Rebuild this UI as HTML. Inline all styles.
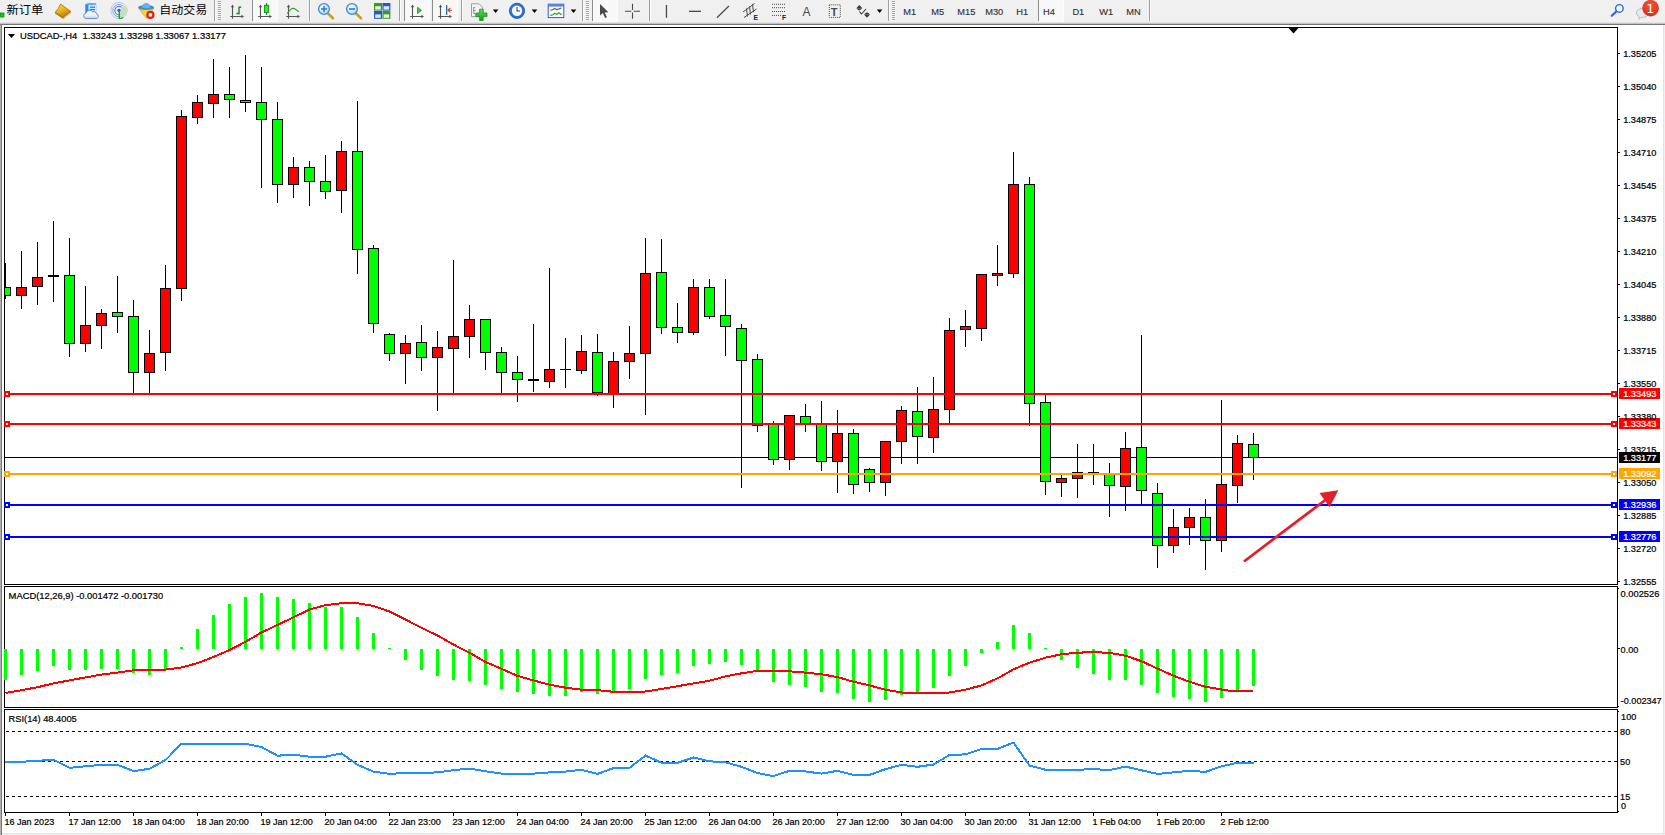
<!DOCTYPE html>
<html><head><meta charset="utf-8"><title>USDCAD-,H4</title>
<style>
html,body{margin:0;padding:0;background:#fff;overflow:hidden}
body{width:1665px;height:835px;position:relative;font-family:"Liberation Sans","Noto Sans CJK SC",sans-serif}
svg{position:absolute;left:0;top:0;display:block}
text{font-family:"Liberation Sans","Noto Sans CJK SC",sans-serif}
.ax{font-size:9.5px;stroke:#000;stroke-width:0.22px}
.axw{stroke:#fff}
.tf{font-size:9.8px;fill:#333;stroke:#333;stroke-width:0.15px}
.cj{font-size:12px;fill:#000}
</style></head><body>
<svg width="1665" height="835" viewBox="0 0 1665 835">
<defs>
<linearGradient id="gold" x1="0" y1="0" x2="0.6" y2="1"><stop offset="0" stop-color="#fbe45a"/><stop offset="0.55" stop-color="#e8b21a"/><stop offset="1" stop-color="#b87a10"/></linearGradient>
<linearGradient id="blu" x1="0" y1="0" x2="0" y2="1"><stop offset="0" stop-color="#55aaf5"/><stop offset="1" stop-color="#1b5fd0"/></linearGradient>
<radialGradient id="lens" cx="0.4" cy="0.35" r="0.7"><stop offset="0" stop-color="#ffffff"/><stop offset="1" stop-color="#a8d4f2"/></radialGradient>
<radialGradient id="badge" cx="0.5" cy="0.3" r="0.8"><stop offset="0" stop-color="#f0583a"/><stop offset="1" stop-color="#d42612"/></radialGradient>
<linearGradient id="grn" x1="0" y1="0" x2="0" y2="1"><stop offset="0" stop-color="#5fe05f"/><stop offset="1" stop-color="#0aa00a"/></linearGradient>
<clipPath id="main"><rect x="5" y="28" width="1612" height="556"/></clipPath>
</defs>
<!-- window chrome -->
<rect x="0" y="0" width="1665" height="835" fill="#fff"/>
<rect x="0" y="0" width="1665" height="23" fill="#f0f0f0"/>
<rect x="0" y="22" width="1665" height="1" fill="#e2e2e2"/>
<rect x="0" y="23" width="1665" height="1" fill="#c4c4c4"/>
<rect x="0" y="24" width="1665" height="1" fill="#767676"/>
<rect x="0" y="25" width="1" height="810" fill="#b0b0b0"/>
<rect x="1" y="25" width="1" height="810" fill="#787878"/>
<rect x="1663" y="25" width="1" height="810" fill="#e3e3e3"/><rect x="1664" y="25" width="1" height="810" fill="#f0f0f0"/>
<rect x="2" y="833" width="1663" height="1" fill="#e3e3e3"/><rect x="2" y="834" width="1663" height="1" fill="#f2f2f2"/>
<g id="toolbar">
<rect x="0" y="13" width="4" height="4" fill="#18cc18" stroke="#0b8a0b" stroke-width="0.8"/>
<text x="6.4" y="14.2" class="cj" style="font-size:11.8px" textLength="36.8" lengthAdjust="spacingAndGlyphs">新订单</text>
<path d="M60.6 4 L70.8 11.4 L70.8 13 L63.2 18.9 L55 13.6 L55 12.4 Q58.6 9 60.6 4 Z" fill="#b8801a"/>
<path d="M60.6 4 L70.8 11.4 L63 17.2 L55.3 12.2 Q58.6 9 60.6 4 Z" fill="url(#gold)" stroke="#a8720e" stroke-width="0.7"/>
<path d="M63.3 18.2 L70.6 12.6" stroke="#f2e2b0" stroke-width="0.7" fill="none"/>
<g><path d="M85.3 4.2 L88.4 3.2 L96.2 3.6 L96.2 13 L85.3 13 Z" fill="#1e8cf0"/><path d="M88.4 5 L96.2 4.4 L96.2 13 L88.4 13 Z" fill="#cfe6ff"/><path d="M85.3 4.2 L88.4 5 L96.2 4.4 L93 3.4 L88.4 3.2 Z" fill="#58b4ff"/><rect x="90" y="6.6" width="5" height="1.2" fill="#2a7ae0"/><rect x="90" y="9" width="5" height="1.2" fill="#2a7ae0"/>
<path d="M85.8 18.6 a2.9 2.9 0 0 1 0.2 -5.6 a3.6 3.6 0 0 1 6.6 -1.2 a3 3 0 0 1 4 2.3 a2.3 2.3 0 0 1 -0.2 4.5 z" fill="#eef3fb" stroke="#5878b4" stroke-width="0.9"/><path d="M85 17.2 h12.8" stroke="#c4d2ea" stroke-width="1.2"/></g>
<g fill="none"><path d="M119 10.6 V18.7 A8.1 8.1 0 0 0 125.20 5.39 Z" fill="#cfe6cf" stroke="none"/><path d="M124.21 4.40 A8.1 8.1 0 1 0 119 18.7" stroke="#a9c3ea" stroke-width="0.9"/><path d="M124.21 4.40 A8.1 8.1 0 0 1 119 18.7" stroke="#b9d6b9" stroke-width="0.9"/><path d="M122.99 5.85 A6.2 6.2 0 1 0 119 16.8" stroke="#7fa4e0" stroke-width="1.0"/><path d="M122.99 5.85 A6.2 6.2 0 0 1 119 16.8" stroke="#b9d6b9" stroke-width="1.0"/><path d="M121.70 7.38 A4.2 4.2 0 1 0 119 14.8" stroke="#5586dc" stroke-width="1.1"/><path d="M121.70 7.38 A4.2 4.2 0 0 1 119 14.8" stroke="#b9d6b9" stroke-width="1.1"/><circle cx="119" cy="10.3" r="1.6" fill="#2458c8" stroke="none"/>
<path d="M119.3 11 V18.7" stroke="#1fa01f" stroke-width="1.4"/><path d="M119.3 18.7 A8.1 8.1 0 0 0 123.2 17.5" stroke="#2aa82a" stroke-width="1.2"/></g>
<g><path d="M138.8 8.6 L153.6 8.6 L146.6 18.6 Z" fill="#f4d23c" stroke="#d0a018" stroke-width="0.7"/><ellipse cx="146.1" cy="7.6" rx="8" ry="2.5" fill="#3f8fd0"/><path d="M142.4 7 a3.8 4 0 0 1 7.6 0 z" fill="#6ab0ea"/><ellipse cx="146.1" cy="7.2" rx="3.8" ry="1.1" fill="#6ab0ea"/>
<circle cx="150.4" cy="14.9" r="4.1" fill="#dc1e14"/><rect x="148.7" y="13.3" width="3.4" height="3.2" fill="#fff"/></g>
<text x="159.2" y="14.1" class="cj" style="font-size:11.8px" textLength="48" lengthAdjust="spacingAndGlyphs">自动交易</text>
<rect x="214" y="0" width="1" height="21" fill="#a0a0a0"/><rect x="215" y="0" width="1" height="21" fill="#fafafa"/><rect x="218" y="1" width="3" height="1" fill="#a8a8a8"/><rect x="218" y="3" width="3" height="1" fill="#a8a8a8"/><rect x="218" y="5" width="3" height="1" fill="#a8a8a8"/><rect x="218" y="7" width="3" height="1" fill="#a8a8a8"/><rect x="218" y="9" width="3" height="1" fill="#a8a8a8"/><rect x="218" y="11" width="3" height="1" fill="#a8a8a8"/><rect x="218" y="13" width="3" height="1" fill="#a8a8a8"/><rect x="218" y="15" width="3" height="1" fill="#a8a8a8"/><rect x="218" y="17" width="3" height="1" fill="#a8a8a8"/><rect x="218" y="19" width="3" height="1" fill="#a8a8a8"/>
<g stroke="#555" stroke-width="1.1" fill="none"><path d="M232.5 6 V18.8 M230.2 16.5 H243"/></g><path d="M232.5 4.6 l-1.7 2.6 h3.4z M244 16.5 l-2.6 -1.7 v3.4z" fill="#555"/><path d="M236.4 13.5 H239 M239 6.6 V14.6 M239 7.3 H241.2" fill="none" stroke="#1a8a1a" stroke-width="1.4"/>
<rect x="252" y="0" width="25" height="22" fill="#f8f8f8"/><rect x="252" y="0" width="1" height="21" fill="#8c8c8c"/><rect x="277" y="0" width="1" height="22" fill="#fdfdfd"/><rect x="252" y="21" width="25" height="1" fill="#fdfdfd"/><g stroke="#555" stroke-width="1.1" fill="none"><path d="M260.5 6 V18.8 M258.2 16.5 H271"/></g><path d="M260.5 4.6 l-1.7 2.6 h3.4z M272 16.5 l-2.6 -1.7 v3.4z" fill="#555"/><rect x="265.9" y="3.1" width="1.2" height="11.7" fill="#0f8f0f"/><rect x="264.5" y="5.3" width="4.2" height="7.2" fill="#3fe03f" stroke="#0f8f0f" stroke-width="0.9"/>
<g stroke="#555" stroke-width="1.1" fill="none"><path d="M288.5 6 V18.8 M286.2 16.5 H299"/></g><path d="M288.5 4.6 l-1.7 2.6 h3.4z M300 16.5 l-2.6 -1.7 v3.4z" fill="#555"/><path d="M287.2 13.5 Q290.4 9 293 8.3 Q295 8.6 298.8 11.9" fill="none" stroke="#2a9a2a" stroke-width="1.15"/>
<rect x="309" y="0" width="1" height="21" fill="#a0a0a0"/><rect x="310" y="0" width="1" height="21" fill="#fafafa"/>
<g><path d="M328 13.5 L333 18.3" stroke="#c9a020" stroke-width="2.6" stroke-linecap="round"/><circle cx="324" cy="9" r="5.4" fill="url(#lens)" stroke="#3f8ad8" stroke-width="1.3"/><path d="M321 9 h6 M324 6 v6" stroke="#2f7ac8" stroke-width="1.6"/></g>
<g><path d="M356 13.5 L361 18.3" stroke="#c9a020" stroke-width="2.6" stroke-linecap="round"/><circle cx="352" cy="9" r="5.4" fill="url(#lens)" stroke="#3f8ad8" stroke-width="1.3"/><path d="M349 9 h6" stroke="#2f7ac8" stroke-width="1.6"/></g>
<g><rect x="374" y="3" width="8" height="7.6" fill="#3c9a1c"/><rect x="382.4" y="3" width="8" height="7.6" fill="#2458d0"/><rect x="374" y="11" width="8" height="7.8" fill="#2458d0"/><rect x="382.4" y="11" width="8" height="7.8" fill="#3c9a1c"/>
<rect x="375.2" y="6.2" width="5.6" height="3.4" fill="#e6f4e0"/><rect x="383.6" y="6.2" width="5.6" height="3.4" fill="#e0e8fb"/><rect x="375.2" y="14.4" width="5.6" height="3.4" fill="#e0e8fb"/><rect x="383.6" y="14.4" width="5.6" height="3.4" fill="#e6f4e0"/></g>
<rect x="399" y="0" width="1" height="21" fill="#a0a0a0"/><rect x="400" y="0" width="1" height="21" fill="#fafafa"/>
<rect x="404" y="0" width="25" height="22" fill="#f8f8f8"/><rect x="404" y="0" width="1" height="21" fill="#8c8c8c"/><rect x="429" y="0" width="1" height="22" fill="#fdfdfd"/><rect x="404" y="21" width="25" height="1" fill="#fdfdfd"/><g stroke="#555" stroke-width="1.1" fill="none"><path d="M412.5 6 V18.8 M410.2 16.5 H423"/></g><path d="M412.5 4.6 l-1.7 2.6 h3.4z M424 16.5 l-2.6 -1.7 v3.4z" fill="#555"/><path d="M417.5 7.2 v6.4 l4 -3.2 z" fill="#35c835" stroke="#1a9a1a" stroke-width="0.8"/>
<rect x="432" y="0" width="25" height="22" fill="#f8f8f8"/><rect x="432" y="0" width="1" height="21" fill="#8c8c8c"/><rect x="457" y="0" width="1" height="22" fill="#fdfdfd"/><rect x="432" y="21" width="25" height="1" fill="#fdfdfd"/><g stroke="#555" stroke-width="1.1" fill="none"><path d="M440.5 6 V18.8 M438.2 16.5 H451"/></g><path d="M440.5 4.6 l-1.7 2.6 h3.4z M452 16.5 l-2.6 -1.7 v3.4z" fill="#555"/><rect x="446" y="5" width="1.3" height="10" fill="#1f6fb0"/><path d="M447.6 10.2 l4.4 0 M447.8 10.2 l2.6 -2.2 M447.8 10.2 l2.6 2.2" stroke="#d04010" stroke-width="1.1" fill="none"/>
<rect x="461" y="0" width="1" height="21" fill="#a0a0a0"/><rect x="462" y="0" width="1" height="21" fill="#fafafa"/>
<g><path d="M471.5 3.8 h7.5 l3.6 3.6 v9.2 h-11.1 z" fill="#f4f4f4" stroke="#8a8a8a" stroke-width="0.8"/><path d="M475 7.5 h-1.3 v6 h1.3 M474 10.5 h1.5" fill="none" stroke="#666" stroke-width="0.7"/>
<path d="M479.6 9.2 h3.6 v3.8 h3.8 v3.6 h-3.8 v3.8 h-3.6 v-3.8 h-3.8 v-3.6 h3.8 z" fill="url(#grn)" stroke="#0a8a0a" stroke-width="0.7"/></g>
<path d="M492.8 9.6 h5.6 l-2.8 3.4 z" fill="#000"/>
<g><circle cx="517" cy="10.8" r="7.6" fill="#2a72d8" stroke="#1a52b0" stroke-width="0.8"/><circle cx="517" cy="10.8" r="5.2" fill="#f4f8fc"/><path d="M517 7 v4 h3" fill="none" stroke="#444" stroke-width="1.1"/></g>
<path d="M531.7 9.6 h5.6 l-2.8 3.4 z" fill="#000"/>
<g><rect x="548.2" y="4.2" width="15.6" height="13.4" fill="#f6f9ff" stroke="#2a62c0" stroke-width="1"/><rect x="548.2" y="4.2" width="15.6" height="2.4" fill="#4a8ae0"/><path d="M550.3 10.2 l2.2 -0.4 l2 -1.2 l2.2 1 l2.2 -0.6 l2.4 -1" fill="none" stroke="#b03018" stroke-width="1.1"/><path d="M550.3 15.4 l2.4 -0.6 l2 -1.4 l2.2 1 l2 -1.6 l2.6 2" fill="none" stroke="#20a020" stroke-width="1.1"/></g>
<path d="M570.7 9.6 h5.6 l-2.8 3.4 z" fill="#000"/>
<rect x="582" y="0" width="1" height="21" fill="#a0a0a0"/><rect x="583" y="0" width="1" height="21" fill="#fafafa"/><rect x="586" y="1" width="3" height="1" fill="#a8a8a8"/><rect x="586" y="3" width="3" height="1" fill="#a8a8a8"/><rect x="586" y="5" width="3" height="1" fill="#a8a8a8"/><rect x="586" y="7" width="3" height="1" fill="#a8a8a8"/><rect x="586" y="9" width="3" height="1" fill="#a8a8a8"/><rect x="586" y="11" width="3" height="1" fill="#a8a8a8"/><rect x="586" y="13" width="3" height="1" fill="#a8a8a8"/><rect x="586" y="15" width="3" height="1" fill="#a8a8a8"/><rect x="586" y="17" width="3" height="1" fill="#a8a8a8"/><rect x="586" y="19" width="3" height="1" fill="#a8a8a8"/>
<rect x="592" y="0" width="25" height="22" fill="#f8f8f8"/><rect x="592" y="0" width="1" height="21" fill="#8c8c8c"/><rect x="617" y="0" width="1" height="22" fill="#fdfdfd"/><rect x="592" y="21" width="25" height="1" fill="#fdfdfd"/><path d="M600 4 L600 15.6 L602.9 13 L605.1 18 L606.9 17.2 L604.7 12.4 L608.4 12.2 Z" fill="#4a4a4a"/>
<path d="M625 11.3 h6.3 M633.7 11.3 h6.3 M632.5 3.8 v6.3 M632.5 12.5 v6.3" stroke="#4a4a4a" stroke-width="1.1" fill="none"/>
<rect x="649" y="0" width="1" height="21" fill="#a0a0a0"/><rect x="650" y="0" width="1" height="21" fill="#fafafa"/>
<rect x="665.8" y="5" width="1.3" height="12.8" fill="#4a4a4a"/>
<rect x="689" y="10.7" width="12" height="1.3" fill="#4a4a4a"/>
<path d="M716.9 17.8 L728.9 6" stroke="#4a4a4a" stroke-width="1.2"/>
<g stroke="#4a4a4a" stroke-width="1" fill="none"><path d="M743 12 L754.5 3.5 M744 17.5 L756.5 9 M746.5 8.5 l1 8 M749.5 6.5 l1 8 M752.5 4.2 l1 8"/></g>
<text x="753.6" y="19.6" style="font-size:6.8px;font-weight:bold;fill:#222">E</text>
<g stroke="#4a4a4a" stroke-width="1" stroke-dasharray="1 1" fill="none"><path d="M772 4.3 h13.5 M772 7.7 h13.5 M772 11.5 h13.5 M772 15.4 h9"/></g>
<text x="781.9" y="19.6" style="font-size:6.8px;font-weight:bold;fill:#222">F</text>
<text x="802.4" y="15.9" style="font-size:12px;fill:#4a4a4a">A</text>
<rect x="829.3" y="4.8" width="11" height="12.6" fill="none" stroke="#4a4a4a" stroke-width="1" stroke-dasharray="1 1"/>
<text x="830.8" y="15.8" style="font-size:11px;font-weight:bold;fill:#4a4a4a">T</text>
<g fill="#3a3a3a"><path d="M859.3 5 l3 3.2 h-6z M856.3 8.6 h6 l-3 2z M867 17.8 l-3 -3.2 h6z M864 14.2 h6 l-3 -2z"/><path d="M859.5 11.5 l2 2.5 l4.5 -5" fill="none" stroke="#3a3a3a" stroke-width="1.1"/></g>
<path d="M876.8 9.6 h5.6 l-2.8 3.4 z" fill="#000"/>
<rect x="888" y="0" width="1" height="21" fill="#a0a0a0"/><rect x="889" y="0" width="1" height="21" fill="#fafafa"/><rect x="892" y="1" width="3" height="1" fill="#a8a8a8"/><rect x="892" y="3" width="3" height="1" fill="#a8a8a8"/><rect x="892" y="5" width="3" height="1" fill="#a8a8a8"/><rect x="892" y="7" width="3" height="1" fill="#a8a8a8"/><rect x="892" y="9" width="3" height="1" fill="#a8a8a8"/><rect x="892" y="11" width="3" height="1" fill="#a8a8a8"/><rect x="892" y="13" width="3" height="1" fill="#a8a8a8"/><rect x="892" y="15" width="3" height="1" fill="#a8a8a8"/><rect x="892" y="17" width="3" height="1" fill="#a8a8a8"/><rect x="892" y="19" width="3" height="1" fill="#a8a8a8"/>
<rect x="1038" y="0" width="25" height="22" fill="#f8f8f8"/><rect x="1038" y="0" width="1" height="21" fill="#8c8c8c"/><rect x="1063" y="0" width="1" height="22" fill="#fdfdfd"/><rect x="1038" y="21" width="25" height="1" fill="#fdfdfd"/>
<text transform="translate(903.2,15.1) scale(0.95,1)" class="tf">M1</text>
<text transform="translate(931.2,15.1) scale(0.95,1)" class="tf">M5</text>
<text transform="translate(957.3000000000001,15.1) scale(0.95,1)" class="tf">M15</text>
<text transform="translate(985.2,15.1) scale(0.95,1)" class="tf">M30</text>
<text transform="translate(1016.3000000000001,15.1) scale(0.95,1)" class="tf">H1</text>
<text transform="translate(1043.0,15.1) scale(0.95,1)" class="tf">H4</text>
<text transform="translate(1072.3999999999999,15.1) scale(0.95,1)" class="tf">D1</text>
<text transform="translate(1099.3,15.1) scale(0.95,1)" class="tf">W1</text>
<text transform="translate(1126.1999999999998,15.1) scale(0.95,1)" class="tf">MN</text>
<rect x="1149" y="0" width="1" height="21" fill="#a0a0a0"/><rect x="1150" y="0" width="1" height="21" fill="#fafafa"/>
<g><path d="M1616.6 11.2 L1611.8 15.8" stroke="#2f66d0" stroke-width="2.2" stroke-linecap="round"/><circle cx="1619.4" cy="8.4" r="3.8" fill="#eef2fa" stroke="#2f66d0" stroke-width="1.4"/></g>
<g><path d="M1636.5 13 a6 4.6 0 0 1 12 0 a6 4.6 0 0 1 -7.5 4.4 l-2 2 l0.2 -2.8 a6 4.6 0 0 1 -2.7 -3.6z" fill="#e9e9f0" stroke="#b0b0b4" stroke-width="0.8"/>
<circle cx="1650.6" cy="8.2" r="8.3" fill="url(#badge)"/><text x="1646.6" y="12.8" style="font-family:'DejaVu Sans',sans-serif;font-size:12px;fill:#fff">1</text></g>
</g>
<!-- chart frames -->
<g shape-rendering="crispEdges">
<rect x="4" y="27" width="1614" height="1" fill="#000"/><rect x="4" y="27" width="1" height="558" fill="#000"/><rect x="1617" y="27" width="1" height="558" fill="#000"/><rect x="4" y="584" width="1614" height="1" fill="#000"/>
<rect x="4" y="586" width="1614" height="1" fill="#000"/><rect x="4" y="586" width="1" height="122" fill="#000"/><rect x="1617" y="586" width="1" height="122" fill="#000"/><rect x="4" y="707" width="1614" height="1" fill="#000"/>
<rect x="4" y="709" width="1614" height="1" fill="#000"/><rect x="4" y="709" width="1" height="104" fill="#000"/><rect x="1617" y="709" width="1" height="104" fill="#000"/><rect x="4" y="812" width="1614" height="1" fill="#000"/>
<path d="M1288.5 28 h10 l-5 5.4z" fill="#000" shape-rendering="auto"/>
<g clip-path="url(#main)">
<rect x="5" y="457" width="1612" height="1" fill="#000"/>
<rect x="5" y="263" width="1" height="36" fill="#000"/>
<rect x="0" y="287" width="11" height="9" fill="#000"/>
<rect x="1" y="288" width="9" height="7" fill="#00FF00"/>
<rect x="21" y="251" width="1" height="58" fill="#000"/>
<rect x="16" y="287" width="11" height="9" fill="#000"/>
<rect x="17" y="288" width="9" height="7" fill="#FF0000"/>
<rect x="37" y="242" width="1" height="63" fill="#000"/>
<rect x="32" y="277" width="11" height="10" fill="#000"/>
<rect x="33" y="278" width="9" height="8" fill="#FF0000"/>
<rect x="53" y="221" width="1" height="81" fill="#000"/>
<rect x="48" y="275" width="11" height="2" fill="#000"/>
<rect x="69" y="238" width="1" height="119" fill="#000"/>
<rect x="64" y="275" width="11" height="69" fill="#000"/>
<rect x="65" y="276" width="9" height="67" fill="#00FF00"/>
<rect x="85" y="286" width="1" height="66" fill="#000"/>
<rect x="80" y="325" width="11" height="19" fill="#000"/>
<rect x="81" y="326" width="9" height="17" fill="#FF0000"/>
<rect x="101" y="309" width="1" height="40" fill="#000"/>
<rect x="96" y="313" width="11" height="13" fill="#000"/>
<rect x="97" y="314" width="9" height="11" fill="#FF0000"/>
<rect x="117" y="276" width="1" height="57" fill="#000"/>
<rect x="112" y="312" width="11" height="5" fill="#000"/>
<rect x="113" y="313" width="9" height="3" fill="#00FF00"/>
<rect x="133" y="300" width="1" height="94" fill="#000"/>
<rect x="128" y="316" width="11" height="57" fill="#000"/>
<rect x="129" y="317" width="9" height="55" fill="#00FF00"/>
<rect x="149" y="330" width="1" height="64" fill="#000"/>
<rect x="144" y="353" width="11" height="20" fill="#000"/>
<rect x="145" y="354" width="9" height="18" fill="#FF0000"/>
<rect x="165" y="265" width="1" height="106" fill="#000"/>
<rect x="160" y="288" width="11" height="65" fill="#000"/>
<rect x="161" y="289" width="9" height="63" fill="#FF0000"/>
<rect x="181" y="110" width="1" height="191" fill="#000"/>
<rect x="176" y="116" width="11" height="173" fill="#000"/>
<rect x="177" y="117" width="9" height="171" fill="#FF0000"/>
<rect x="197" y="95" width="1" height="29" fill="#000"/>
<rect x="192" y="102" width="11" height="16" fill="#000"/>
<rect x="193" y="103" width="9" height="14" fill="#FF0000"/>
<rect x="213" y="59" width="1" height="59" fill="#000"/>
<rect x="208" y="94" width="11" height="10" fill="#000"/>
<rect x="209" y="95" width="9" height="8" fill="#FF0000"/>
<rect x="229" y="67" width="1" height="51" fill="#000"/>
<rect x="224" y="94" width="11" height="6" fill="#000"/>
<rect x="225" y="95" width="9" height="4" fill="#00FF00"/>
<rect x="245" y="55" width="1" height="57" fill="#000"/>
<rect x="240" y="100" width="11" height="3" fill="#000"/>
<rect x="241" y="101" width="9" height="1" fill="#00FF00"/>
<rect x="261" y="67" width="1" height="121" fill="#000"/>
<rect x="256" y="102" width="11" height="18" fill="#000"/>
<rect x="257" y="103" width="9" height="16" fill="#00FF00"/>
<rect x="277" y="102" width="1" height="101" fill="#000"/>
<rect x="272" y="119" width="11" height="66" fill="#000"/>
<rect x="273" y="120" width="9" height="64" fill="#00FF00"/>
<rect x="293" y="157" width="1" height="41" fill="#000"/>
<rect x="288" y="167" width="11" height="18" fill="#000"/>
<rect x="289" y="168" width="9" height="16" fill="#FF0000"/>
<rect x="309" y="161" width="1" height="45" fill="#000"/>
<rect x="304" y="167" width="11" height="15" fill="#000"/>
<rect x="305" y="168" width="9" height="13" fill="#00FF00"/>
<rect x="325" y="155" width="1" height="44" fill="#000"/>
<rect x="320" y="181" width="11" height="11" fill="#000"/>
<rect x="321" y="182" width="9" height="9" fill="#00FF00"/>
<rect x="341" y="141" width="1" height="72" fill="#000"/>
<rect x="336" y="151" width="11" height="40" fill="#000"/>
<rect x="337" y="152" width="9" height="38" fill="#FF0000"/>
<rect x="357" y="101" width="1" height="173" fill="#000"/>
<rect x="352" y="151" width="11" height="99" fill="#000"/>
<rect x="353" y="152" width="9" height="97" fill="#00FF00"/>
<rect x="373" y="245" width="1" height="88" fill="#000"/>
<rect x="368" y="248" width="11" height="76" fill="#000"/>
<rect x="369" y="249" width="9" height="74" fill="#00FF00"/>
<rect x="389" y="333" width="1" height="28" fill="#000"/>
<rect x="384" y="334" width="11" height="20" fill="#000"/>
<rect x="385" y="335" width="9" height="18" fill="#00FF00"/>
<rect x="405" y="335" width="1" height="49" fill="#000"/>
<rect x="400" y="343" width="11" height="11" fill="#000"/>
<rect x="401" y="344" width="9" height="9" fill="#FF0000"/>
<rect x="421" y="325" width="1" height="46" fill="#000"/>
<rect x="416" y="342" width="11" height="16" fill="#000"/>
<rect x="417" y="343" width="9" height="14" fill="#00FF00"/>
<rect x="437" y="331" width="1" height="80" fill="#000"/>
<rect x="432" y="347" width="11" height="11" fill="#000"/>
<rect x="433" y="348" width="9" height="9" fill="#FF0000"/>
<rect x="453" y="260" width="1" height="134" fill="#000"/>
<rect x="448" y="336" width="11" height="13" fill="#000"/>
<rect x="449" y="337" width="9" height="11" fill="#FF0000"/>
<rect x="469" y="305" width="1" height="53" fill="#000"/>
<rect x="464" y="319" width="11" height="18" fill="#000"/>
<rect x="465" y="320" width="9" height="16" fill="#FF0000"/>
<rect x="485" y="319" width="1" height="51" fill="#000"/>
<rect x="480" y="319" width="11" height="34" fill="#000"/>
<rect x="481" y="320" width="9" height="32" fill="#00FF00"/>
<rect x="501" y="347" width="1" height="47" fill="#000"/>
<rect x="496" y="352" width="11" height="21" fill="#000"/>
<rect x="497" y="353" width="9" height="19" fill="#00FF00"/>
<rect x="517" y="356" width="1" height="46" fill="#000"/>
<rect x="512" y="372" width="11" height="8" fill="#000"/>
<rect x="513" y="373" width="9" height="6" fill="#00FF00"/>
<rect x="533" y="324" width="1" height="68" fill="#000"/>
<rect x="528" y="379" width="11" height="2" fill="#000"/>
<rect x="549" y="268" width="1" height="120" fill="#000"/>
<rect x="544" y="369" width="11" height="13" fill="#000"/>
<rect x="545" y="370" width="9" height="11" fill="#FF0000"/>
<rect x="565" y="338" width="1" height="50" fill="#000"/>
<rect x="560" y="369" width="11" height="1" fill="#000"/>
<rect x="581" y="335" width="1" height="39" fill="#000"/>
<rect x="576" y="351" width="11" height="20" fill="#000"/>
<rect x="577" y="352" width="9" height="18" fill="#FF0000"/>
<rect x="597" y="334" width="1" height="62" fill="#000"/>
<rect x="592" y="352" width="11" height="41" fill="#000"/>
<rect x="593" y="353" width="9" height="39" fill="#00FF00"/>
<rect x="613" y="352" width="1" height="56" fill="#000"/>
<rect x="608" y="361" width="11" height="33" fill="#000"/>
<rect x="609" y="362" width="9" height="31" fill="#FF0000"/>
<rect x="629" y="326" width="1" height="53" fill="#000"/>
<rect x="624" y="353" width="11" height="9" fill="#000"/>
<rect x="625" y="354" width="9" height="7" fill="#FF0000"/>
<rect x="645" y="238" width="1" height="177" fill="#000"/>
<rect x="640" y="273" width="11" height="81" fill="#000"/>
<rect x="641" y="274" width="9" height="79" fill="#FF0000"/>
<rect x="661" y="239" width="1" height="95" fill="#000"/>
<rect x="656" y="272" width="11" height="56" fill="#000"/>
<rect x="657" y="273" width="9" height="54" fill="#00FF00"/>
<rect x="677" y="303" width="1" height="40" fill="#000"/>
<rect x="672" y="327" width="11" height="6" fill="#000"/>
<rect x="673" y="328" width="9" height="4" fill="#00FF00"/>
<rect x="693" y="279" width="1" height="56" fill="#000"/>
<rect x="688" y="287" width="11" height="46" fill="#000"/>
<rect x="689" y="288" width="9" height="44" fill="#FF0000"/>
<rect x="709" y="279" width="1" height="40" fill="#000"/>
<rect x="704" y="287" width="11" height="30" fill="#000"/>
<rect x="705" y="288" width="9" height="28" fill="#00FF00"/>
<rect x="725" y="279" width="1" height="77" fill="#000"/>
<rect x="720" y="315" width="11" height="12" fill="#000"/>
<rect x="721" y="316" width="9" height="10" fill="#00FF00"/>
<rect x="741" y="324" width="1" height="164" fill="#000"/>
<rect x="736" y="328" width="11" height="33" fill="#000"/>
<rect x="737" y="329" width="9" height="31" fill="#00FF00"/>
<rect x="757" y="354" width="1" height="78" fill="#000"/>
<rect x="752" y="359" width="11" height="67" fill="#000"/>
<rect x="753" y="360" width="9" height="65" fill="#00FF00"/>
<rect x="773" y="421" width="1" height="44" fill="#000"/>
<rect x="768" y="424" width="11" height="36" fill="#000"/>
<rect x="769" y="425" width="9" height="34" fill="#00FF00"/>
<rect x="789" y="415" width="1" height="55" fill="#000"/>
<rect x="784" y="415" width="11" height="45" fill="#000"/>
<rect x="785" y="416" width="9" height="43" fill="#FF0000"/>
<rect x="805" y="404" width="1" height="28" fill="#000"/>
<rect x="800" y="416" width="11" height="8" fill="#000"/>
<rect x="801" y="417" width="9" height="6" fill="#00FF00"/>
<rect x="821" y="401" width="1" height="70" fill="#000"/>
<rect x="816" y="424" width="11" height="38" fill="#000"/>
<rect x="817" y="425" width="9" height="36" fill="#00FF00"/>
<rect x="837" y="410" width="1" height="83" fill="#000"/>
<rect x="832" y="433" width="11" height="29" fill="#000"/>
<rect x="833" y="434" width="9" height="27" fill="#FF0000"/>
<rect x="853" y="429" width="1" height="65" fill="#000"/>
<rect x="848" y="433" width="11" height="52" fill="#000"/>
<rect x="849" y="434" width="9" height="50" fill="#00FF00"/>
<rect x="869" y="468" width="1" height="24" fill="#000"/>
<rect x="864" y="469" width="11" height="14" fill="#000"/>
<rect x="865" y="470" width="9" height="12" fill="#00FF00"/>
<rect x="885" y="441" width="1" height="55" fill="#000"/>
<rect x="880" y="441" width="11" height="42" fill="#000"/>
<rect x="881" y="442" width="9" height="40" fill="#FF0000"/>
<rect x="901" y="406" width="1" height="58" fill="#000"/>
<rect x="896" y="410" width="11" height="32" fill="#000"/>
<rect x="897" y="411" width="9" height="30" fill="#FF0000"/>
<rect x="917" y="387" width="1" height="77" fill="#000"/>
<rect x="912" y="411" width="11" height="26" fill="#000"/>
<rect x="913" y="412" width="9" height="24" fill="#00FF00"/>
<rect x="933" y="377" width="1" height="76" fill="#000"/>
<rect x="928" y="409" width="11" height="29" fill="#000"/>
<rect x="929" y="410" width="9" height="27" fill="#FF0000"/>
<rect x="949" y="318" width="1" height="105" fill="#000"/>
<rect x="944" y="330" width="11" height="80" fill="#000"/>
<rect x="945" y="331" width="9" height="78" fill="#FF0000"/>
<rect x="965" y="310" width="1" height="37" fill="#000"/>
<rect x="960" y="326" width="11" height="4" fill="#000"/>
<rect x="961" y="327" width="9" height="2" fill="#FF0000"/>
<rect x="981" y="274" width="1" height="67" fill="#000"/>
<rect x="976" y="274" width="11" height="55" fill="#000"/>
<rect x="977" y="275" width="9" height="53" fill="#FF0000"/>
<rect x="997" y="245" width="1" height="41" fill="#000"/>
<rect x="992" y="273" width="11" height="3" fill="#000"/>
<rect x="993" y="274" width="9" height="1" fill="#FF0000"/>
<rect x="1013" y="152" width="1" height="126" fill="#000"/>
<rect x="1008" y="184" width="11" height="90" fill="#000"/>
<rect x="1009" y="185" width="9" height="88" fill="#FF0000"/>
<rect x="1029" y="177" width="1" height="249" fill="#000"/>
<rect x="1024" y="184" width="11" height="220" fill="#000"/>
<rect x="1025" y="185" width="9" height="218" fill="#00FF00"/>
<rect x="1045" y="395" width="1" height="100" fill="#000"/>
<rect x="1040" y="402" width="11" height="80" fill="#000"/>
<rect x="1041" y="403" width="9" height="78" fill="#00FF00"/>
<rect x="1061" y="475" width="1" height="22" fill="#000"/>
<rect x="1056" y="478" width="11" height="5" fill="#000"/>
<rect x="1057" y="479" width="9" height="3" fill="#FF0000"/>
<rect x="1077" y="444" width="1" height="54" fill="#000"/>
<rect x="1072" y="472" width="11" height="7" fill="#000"/>
<rect x="1073" y="473" width="9" height="5" fill="#FF0000"/>
<rect x="1093" y="444" width="1" height="41" fill="#000"/>
<rect x="1088" y="472" width="11" height="1" fill="#000"/>
<rect x="1109" y="463" width="1" height="54" fill="#000"/>
<rect x="1104" y="474" width="11" height="12" fill="#000"/>
<rect x="1105" y="475" width="9" height="10" fill="#00FF00"/>
<rect x="1125" y="432" width="1" height="79" fill="#000"/>
<rect x="1120" y="448" width="11" height="39" fill="#000"/>
<rect x="1121" y="449" width="9" height="37" fill="#FF0000"/>
<rect x="1141" y="335" width="1" height="170" fill="#000"/>
<rect x="1136" y="447" width="11" height="44" fill="#000"/>
<rect x="1137" y="448" width="9" height="42" fill="#00FF00"/>
<rect x="1157" y="483" width="1" height="85" fill="#000"/>
<rect x="1152" y="493" width="11" height="53" fill="#000"/>
<rect x="1153" y="494" width="9" height="51" fill="#00FF00"/>
<rect x="1173" y="509" width="1" height="44" fill="#000"/>
<rect x="1168" y="527" width="11" height="19" fill="#000"/>
<rect x="1169" y="528" width="9" height="17" fill="#FF0000"/>
<rect x="1189" y="508" width="1" height="37" fill="#000"/>
<rect x="1184" y="517" width="11" height="11" fill="#000"/>
<rect x="1185" y="518" width="9" height="9" fill="#FF0000"/>
<rect x="1205" y="499" width="1" height="71" fill="#000"/>
<rect x="1200" y="517" width="11" height="24" fill="#000"/>
<rect x="1201" y="518" width="9" height="22" fill="#00FF00"/>
<rect x="1221" y="400" width="1" height="152" fill="#000"/>
<rect x="1216" y="484" width="11" height="57" fill="#000"/>
<rect x="1217" y="485" width="9" height="55" fill="#FF0000"/>
<rect x="1237" y="435" width="1" height="68" fill="#000"/>
<rect x="1232" y="443" width="11" height="43" fill="#000"/>
<rect x="1233" y="444" width="9" height="41" fill="#FF0000"/>
<rect x="1253" y="433" width="1" height="47" fill="#000"/>
<rect x="1248" y="444" width="11" height="14" fill="#000"/>
<rect x="1249" y="445" width="9" height="12" fill="#00FF00"/>
</g>
<rect x="5" y="393" width="1612" height="2" fill="#FF0000"/>
<rect x="4" y="391" width="6" height="6" fill="#FF0000"/><rect x="6" y="393" width="2" height="2" fill="#fff"/>
<rect x="1611" y="391" width="6" height="6" fill="#FF0000"/><rect x="1613" y="393" width="2" height="2" fill="#fff"/>
<rect x="1619" y="388" width="41" height="11" fill="#FF0000"/>
<text x="1623.2" y="397.1" class="ax axw" fill="#fff" textLength="33.2" lengthAdjust="spacingAndGlyphs">1.33493</text>
<rect x="5" y="423" width="1612" height="2" fill="#FF0000"/>
<rect x="4" y="421" width="6" height="6" fill="#FF0000"/><rect x="6" y="423" width="2" height="2" fill="#fff"/>
<rect x="1611" y="421" width="6" height="6" fill="#FF0000"/><rect x="1613" y="423" width="2" height="2" fill="#fff"/>
<rect x="1619" y="418" width="41" height="11" fill="#FF0000"/>
<text x="1623.2" y="427.1" class="ax axw" fill="#fff" textLength="33.2" lengthAdjust="spacingAndGlyphs">1.33343</text>
<rect x="5" y="473" width="1612" height="2" fill="#FFA500"/>
<rect x="4" y="471" width="6" height="6" fill="#FFA500"/><rect x="6" y="473" width="2" height="2" fill="#fff"/>
<rect x="1611" y="471" width="6" height="6" fill="#FFA500"/><rect x="1613" y="473" width="2" height="2" fill="#fff"/>
<rect x="1619" y="468" width="41" height="11" fill="#FFA500"/>
<text x="1623.2" y="477.1" class="ax axw" fill="#fff" textLength="33.2" lengthAdjust="spacingAndGlyphs">1.33092</text>
<rect x="5" y="504" width="1612" height="2" fill="#0000FF"/>
<rect x="4" y="502" width="6" height="6" fill="#0000FF"/><rect x="6" y="504" width="2" height="2" fill="#fff"/>
<rect x="1611" y="502" width="6" height="6" fill="#0000FF"/><rect x="1613" y="504" width="2" height="2" fill="#fff"/>
<rect x="1619" y="499" width="41" height="11" fill="#0000FF"/>
<text x="1623.2" y="508.1" class="ax axw" fill="#fff" textLength="33.2" lengthAdjust="spacingAndGlyphs">1.32936</text>
<rect x="5" y="536" width="1612" height="2" fill="#0000FF"/>
<rect x="4" y="534" width="6" height="6" fill="#0000FF"/><rect x="6" y="536" width="2" height="2" fill="#fff"/>
<rect x="1611" y="534" width="6" height="6" fill="#0000FF"/><rect x="1613" y="536" width="2" height="2" fill="#fff"/>
<rect x="1619" y="531" width="41" height="11" fill="#0000FF"/>
<text x="1623.2" y="540.1" class="ax axw" fill="#fff" textLength="33.2" lengthAdjust="spacingAndGlyphs">1.32776</text>
<rect x="1619" y="452" width="41" height="11" fill="#000"/>
<rect x="1618" y="53" width="2" height="1" fill="#000"/>
<text x="1623.2" y="56.8" class="ax" textLength="33.2" lengthAdjust="spacingAndGlyphs">1.35205</text>
<rect x="1618" y="86" width="2" height="1" fill="#000"/>
<text x="1623.2" y="89.7" class="ax" textLength="33.2" lengthAdjust="spacingAndGlyphs">1.35040</text>
<rect x="1618" y="119" width="2" height="1" fill="#000"/>
<text x="1623.2" y="122.7" class="ax" textLength="33.2" lengthAdjust="spacingAndGlyphs">1.34875</text>
<rect x="1618" y="152" width="2" height="1" fill="#000"/>
<text x="1623.2" y="155.7" class="ax" textLength="33.2" lengthAdjust="spacingAndGlyphs">1.34710</text>
<rect x="1618" y="185" width="2" height="1" fill="#000"/>
<text x="1623.2" y="188.7" class="ax" textLength="33.2" lengthAdjust="spacingAndGlyphs">1.34545</text>
<rect x="1618" y="218" width="2" height="1" fill="#000"/>
<text x="1623.2" y="221.7" class="ax" textLength="33.2" lengthAdjust="spacingAndGlyphs">1.34375</text>
<rect x="1618" y="251" width="2" height="1" fill="#000"/>
<text x="1623.2" y="254.7" class="ax" textLength="33.2" lengthAdjust="spacingAndGlyphs">1.34210</text>
<rect x="1618" y="284" width="2" height="1" fill="#000"/>
<text x="1623.2" y="287.7" class="ax" textLength="33.2" lengthAdjust="spacingAndGlyphs">1.34045</text>
<rect x="1618" y="317" width="2" height="1" fill="#000"/>
<text x="1623.2" y="320.7" class="ax" textLength="33.2" lengthAdjust="spacingAndGlyphs">1.33880</text>
<rect x="1618" y="350" width="2" height="1" fill="#000"/>
<text x="1623.2" y="353.7" class="ax" textLength="33.2" lengthAdjust="spacingAndGlyphs">1.33715</text>
<rect x="1618" y="383" width="2" height="1" fill="#000"/>
<text x="1623.2" y="386.7" class="ax" textLength="33.2" lengthAdjust="spacingAndGlyphs">1.33550</text>
<rect x="1618" y="416" width="2" height="1" fill="#000"/>
<text x="1623.2" y="419.6" class="ax" textLength="33.2" lengthAdjust="spacingAndGlyphs">1.33380</text>
<rect x="1618" y="449" width="2" height="1" fill="#000"/>
<text x="1623.2" y="452.6" class="ax" textLength="33.2" lengthAdjust="spacingAndGlyphs">1.33215</text>
<rect x="1618" y="482" width="2" height="1" fill="#000"/>
<text x="1623.2" y="485.6" class="ax" textLength="33.2" lengthAdjust="spacingAndGlyphs">1.33050</text>
<rect x="1618" y="515" width="2" height="1" fill="#000"/>
<text x="1623.2" y="518.6" class="ax" textLength="33.2" lengthAdjust="spacingAndGlyphs">1.32885</text>
<rect x="1618" y="548" width="2" height="1" fill="#000"/>
<text x="1623.2" y="551.6" class="ax" textLength="33.2" lengthAdjust="spacingAndGlyphs">1.32720</text>
<rect x="1618" y="581" width="2" height="1" fill="#000"/>
<text x="1623.2" y="584.6" class="ax" textLength="33.2" lengthAdjust="spacingAndGlyphs">1.32555</text>
<!-- MACD -->
<rect x="4" y="649" width="3" height="31" fill="#00FF00"/>
<rect x="20" y="649" width="3" height="26" fill="#00FF00"/>
<rect x="36" y="649" width="3" height="22" fill="#00FF00"/>
<rect x="52" y="649" width="3" height="17" fill="#00FF00"/>
<rect x="68" y="649" width="3" height="21" fill="#00FF00"/>
<rect x="84" y="649" width="3" height="21" fill="#00FF00"/>
<rect x="100" y="649" width="3" height="20" fill="#00FF00"/>
<rect x="116" y="649" width="3" height="20" fill="#00FF00"/>
<rect x="132" y="649" width="3" height="24" fill="#00FF00"/>
<rect x="148" y="649" width="3" height="26" fill="#00FF00"/>
<rect x="164" y="649" width="3" height="20" fill="#00FF00"/>
<rect x="180" y="647" width="3" height="2" fill="#00FF00"/>
<rect x="196" y="629" width="3" height="20" fill="#00FF00"/>
<rect x="212" y="615" width="3" height="34" fill="#00FF00"/>
<rect x="228" y="604" width="3" height="45" fill="#00FF00"/>
<rect x="244" y="597" width="3" height="52" fill="#00FF00"/>
<rect x="260" y="593" width="3" height="56" fill="#00FF00"/>
<rect x="276" y="597" width="3" height="52" fill="#00FF00"/>
<rect x="292" y="599" width="3" height="50" fill="#00FF00"/>
<rect x="308" y="603" width="3" height="46" fill="#00FF00"/>
<rect x="324" y="607" width="3" height="42" fill="#00FF00"/>
<rect x="340" y="607" width="3" height="42" fill="#00FF00"/>
<rect x="356" y="617" width="3" height="32" fill="#00FF00"/>
<rect x="372" y="633" width="3" height="16" fill="#00FF00"/>
<rect x="388" y="648" width="3" height="1" fill="#00FF00"/>
<rect x="404" y="649" width="3" height="11" fill="#00FF00"/>
<rect x="420" y="649" width="3" height="21" fill="#00FF00"/>
<rect x="436" y="649" width="3" height="27" fill="#00FF00"/>
<rect x="452" y="649" width="3" height="31" fill="#00FF00"/>
<rect x="468" y="649" width="3" height="32" fill="#00FF00"/>
<rect x="484" y="649" width="3" height="36" fill="#00FF00"/>
<rect x="500" y="649" width="3" height="40" fill="#00FF00"/>
<rect x="516" y="649" width="3" height="43" fill="#00FF00"/>
<rect x="532" y="649" width="3" height="45" fill="#00FF00"/>
<rect x="548" y="649" width="3" height="47" fill="#00FF00"/>
<rect x="564" y="649" width="3" height="47" fill="#00FF00"/>
<rect x="580" y="649" width="3" height="43" fill="#00FF00"/>
<rect x="596" y="649" width="3" height="45" fill="#00FF00"/>
<rect x="612" y="649" width="3" height="42" fill="#00FF00"/>
<rect x="628" y="649" width="3" height="40" fill="#00FF00"/>
<rect x="644" y="649" width="3" height="30" fill="#00FF00"/>
<rect x="660" y="649" width="3" height="26" fill="#00FF00"/>
<rect x="676" y="649" width="3" height="24" fill="#00FF00"/>
<rect x="692" y="649" width="3" height="17" fill="#00FF00"/>
<rect x="708" y="649" width="3" height="15" fill="#00FF00"/>
<rect x="724" y="649" width="3" height="13" fill="#00FF00"/>
<rect x="740" y="649" width="3" height="16" fill="#00FF00"/>
<rect x="756" y="649" width="3" height="22" fill="#00FF00"/>
<rect x="772" y="649" width="3" height="33" fill="#00FF00"/>
<rect x="788" y="649" width="3" height="36" fill="#00FF00"/>
<rect x="804" y="649" width="3" height="38" fill="#00FF00"/>
<rect x="820" y="649" width="3" height="43" fill="#00FF00"/>
<rect x="836" y="649" width="3" height="44" fill="#00FF00"/>
<rect x="852" y="649" width="3" height="50" fill="#00FF00"/>
<rect x="868" y="649" width="3" height="53" fill="#00FF00"/>
<rect x="884" y="649" width="3" height="51" fill="#00FF00"/>
<rect x="900" y="649" width="3" height="46" fill="#00FF00"/>
<rect x="916" y="649" width="3" height="43" fill="#00FF00"/>
<rect x="932" y="649" width="3" height="39" fill="#00FF00"/>
<rect x="948" y="649" width="3" height="27" fill="#00FF00"/>
<rect x="964" y="649" width="3" height="17" fill="#00FF00"/>
<rect x="980" y="649" width="3" height="4" fill="#00FF00"/>
<rect x="996" y="642" width="3" height="7" fill="#00FF00"/>
<rect x="1012" y="625" width="3" height="24" fill="#00FF00"/>
<rect x="1028" y="633" width="3" height="16" fill="#00FF00"/>
<rect x="1044" y="648" width="3" height="1" fill="#00FF00"/>
<rect x="1060" y="649" width="3" height="11" fill="#00FF00"/>
<rect x="1076" y="649" width="3" height="19" fill="#00FF00"/>
<rect x="1092" y="649" width="3" height="25" fill="#00FF00"/>
<rect x="1108" y="649" width="3" height="31" fill="#00FF00"/>
<rect x="1124" y="649" width="3" height="31" fill="#00FF00"/>
<rect x="1140" y="649" width="3" height="36" fill="#00FF00"/>
<rect x="1156" y="649" width="3" height="44" fill="#00FF00"/>
<rect x="1172" y="649" width="3" height="48" fill="#00FF00"/>
<rect x="1188" y="649" width="3" height="50" fill="#00FF00"/>
<rect x="1204" y="649" width="3" height="53" fill="#00FF00"/>
<rect x="1220" y="649" width="3" height="49" fill="#00FF00"/>
<rect x="1236" y="649" width="3" height="41" fill="#00FF00"/>
<rect x="1252" y="649" width="3" height="37" fill="#00FF00"/>
<polyline points="5.5,693 21.5,690.2 37.5,687.2 53.5,683.4 69.5,680.4 85.5,677.4 101.5,674.6 117.5,672.6 133.5,670.3 149.5,669.8 165.5,669.6 181.5,667.5 197.5,663.2 213.5,656.9 229.5,650.1 245.5,641.8 261.5,632.5 277.5,624.9 293.5,617.3 309.5,609.5 325.5,605.2 341.5,603.2 357.5,603.2 373.5,606 389.5,611.5 405.5,619.5 421.5,627.9 437.5,635.5 453.5,644.6 469.5,652.7 485.5,662 501.5,668.8 517.5,675.9 533.5,680.4 549.5,684.7 565.5,687.7 581.5,689.7 597.5,690.2 613.5,691.8 629.5,691.8 645.5,691.5 661.5,689 677.5,686.2 693.5,683.4 709.5,680.7 725.5,676.4 741.5,673.3 757.5,670.8 773.5,670.8 789.5,671.3 805.5,672.6 821.5,674.3 837.5,677.1 853.5,681.7 869.5,685.4 885.5,689.7 901.5,692.5 917.5,692.8 933.5,692.8 949.5,692.5 965.5,689.7 981.5,685.4 997.5,678.4 1013.5,669.3 1029.5,662.7 1045.5,657.7 1061.5,654.2 1077.5,652.7 1093.5,652.1 1109.5,652.9 1125.5,655.7 1141.5,661.2 1157.5,668.6 1173.5,675.7 1189.5,681.8 1205.5,686.8 1221.5,689.5 1229.5,690.7 1253.5,690.9" fill="none" stroke="#FF0000" stroke-width="2"/>
<rect x="1618" y="588" width="1" height="1" fill="#000"/><rect x="1618" y="648" width="2" height="1" fill="#000"/><rect x="1618" y="706" width="1" height="1" fill="#000"/><rect x="1618" y="711" width="1" height="1" fill="#000"/><rect x="1618" y="811" width="1" height="1" fill="#000"/>
<!-- RSI -->
<path d="M6 731.5 H1617 M6 761.5 H1617 M6 796.5 H1617" stroke="#000" stroke-width="1" stroke-dasharray="3 3" fill="none"/>
<polyline points="5.5,762.3 21.5,761.8 37.5,760.8 53.5,759.7 69.5,767.8 85.5,766.3 101.5,764.8 117.5,764.8 133.5,771.1 149.5,768.8 165.5,760 181.5,743.8 197.5,743.8 213.5,743.8 229.5,743.8 245.5,743.8 261.5,747.1 277.5,755.7 293.5,754.7 309.5,756.7 325.5,756.7 341.5,753.4 357.5,764.8 373.5,771.6 389.5,773.9 405.5,772.9 421.5,772.9 437.5,772.4 453.5,770.1 469.5,768.6 485.5,771.3 501.5,773.6 517.5,773.6 533.5,773.6 549.5,772.4 565.5,771.6 581.5,769.8 597.5,773.9 613.5,768.1 629.5,767.8 645.5,755.5 661.5,762.8 677.5,762.8 693.5,757.5 709.5,761.3 725.5,762.3 741.5,766.8 757.5,773.1 773.5,776.1 789.5,770.8 805.5,771.4 821.5,773.6 837.5,770.8 853.5,774.9 869.5,774.9 885.5,769.1 901.5,764.8 917.5,766.8 933.5,764.5 949.5,754.9 965.5,754.4 981.5,749.1 997.5,748.9 1013.5,742.6 1029.5,765.5 1045.5,769.8 1061.5,769.8 1077.5,769.8 1093.5,769.1 1109.5,770.1 1125.5,766.6 1141.5,770.3 1157.5,773.9 1173.5,772.4 1189.5,770.8 1205.5,771.9 1221.5,766.3 1237.5,762.8 1253.5,762.8" fill="none" stroke="#1E90FF" stroke-width="2"/>
<rect x="5" y="813" width="1" height="3" fill="#000"/>
<text transform="translate(4.4,825.2) scale(0.955,1)" class="ax">16 Jan 2023</text>
<rect x="69" y="813" width="1" height="3" fill="#000"/>
<text transform="translate(68.4,825.2) scale(0.955,1)" class="ax">17 Jan 12:00</text>
<rect x="133" y="813" width="1" height="3" fill="#000"/>
<text transform="translate(132.4,825.2) scale(0.955,1)" class="ax">18 Jan 04:00</text>
<rect x="197" y="813" width="1" height="3" fill="#000"/>
<text transform="translate(196.4,825.2) scale(0.955,1)" class="ax">18 Jan 20:00</text>
<rect x="261" y="813" width="1" height="3" fill="#000"/>
<text transform="translate(260.4,825.2) scale(0.955,1)" class="ax">19 Jan 12:00</text>
<rect x="325" y="813" width="1" height="3" fill="#000"/>
<text transform="translate(324.4,825.2) scale(0.955,1)" class="ax">20 Jan 04:00</text>
<rect x="389" y="813" width="1" height="3" fill="#000"/>
<text transform="translate(388.4,825.2) scale(0.955,1)" class="ax">22 Jan 23:00</text>
<rect x="453" y="813" width="1" height="3" fill="#000"/>
<text transform="translate(452.4,825.2) scale(0.955,1)" class="ax">23 Jan 12:00</text>
<rect x="517" y="813" width="1" height="3" fill="#000"/>
<text transform="translate(516.4,825.2) scale(0.955,1)" class="ax">24 Jan 04:00</text>
<rect x="581" y="813" width="1" height="3" fill="#000"/>
<text transform="translate(580.4,825.2) scale(0.955,1)" class="ax">24 Jan 20:00</text>
<rect x="645" y="813" width="1" height="3" fill="#000"/>
<text transform="translate(644.4,825.2) scale(0.955,1)" class="ax">25 Jan 12:00</text>
<rect x="709" y="813" width="1" height="3" fill="#000"/>
<text transform="translate(708.4,825.2) scale(0.955,1)" class="ax">26 Jan 04:00</text>
<rect x="773" y="813" width="1" height="3" fill="#000"/>
<text transform="translate(772.4,825.2) scale(0.955,1)" class="ax">26 Jan 20:00</text>
<rect x="837" y="813" width="1" height="3" fill="#000"/>
<text transform="translate(836.4,825.2) scale(0.955,1)" class="ax">27 Jan 12:00</text>
<rect x="901" y="813" width="1" height="3" fill="#000"/>
<text transform="translate(900.4,825.2) scale(0.955,1)" class="ax">30 Jan 04:00</text>
<rect x="965" y="813" width="1" height="3" fill="#000"/>
<text transform="translate(964.4,825.2) scale(0.955,1)" class="ax">30 Jan 20:00</text>
<rect x="1029" y="813" width="1" height="3" fill="#000"/>
<text transform="translate(1028.4,825.2) scale(0.955,1)" class="ax">31 Jan 12:00</text>
<rect x="1093" y="813" width="1" height="3" fill="#000"/>
<text transform="translate(1092.4,825.2) scale(0.955,1)" class="ax">1 Feb 04:00</text>
<rect x="1157" y="813" width="1" height="3" fill="#000"/>
<text transform="translate(1156.4,825.2) scale(0.955,1)" class="ax">1 Feb 20:00</text>
<rect x="1221" y="813" width="1" height="3" fill="#000"/>
<text transform="translate(1220.4,825.2) scale(0.955,1)" class="ax">2 Feb 12:00</text>
</g>
<text x="1623.2" y="461.1" class="ax axw" fill="#fff" textLength="33.2" lengthAdjust="spacingAndGlyphs">1.33177</text>
<text x="1620.6" y="597.1" class="ax" textLength="38.8" lengthAdjust="spacingAndGlyphs">0.002526</text>
<text transform="translate(1620.6,652.9) scale(0.955,1)" class="ax">0.00</text>
<text transform="translate(1620.8,703.9) scale(0.955,1)" class="ax">-0.002347</text>
<text transform="translate(1621.1,720.2) scale(0.955,1)" class="ax">100</text>
<text transform="translate(1620.1,735.0) scale(0.955,1)" class="ax">80</text>
<text transform="translate(1620.1,765.2) scale(0.955,1)" class="ax">50</text>
<text transform="translate(1620.1,799.8) scale(0.955,1)" class="ax">15</text>
<text transform="translate(1621.1,809.4) scale(0.955,1)" class="ax">0</text>
<path d="M7.9 33.9 h7.2 l-3.6 4.1z" fill="#000"/>
<text x="20.0" y="38.9" class="ax" xml:space="preserve" textLength="206" lengthAdjust="spacingAndGlyphs">USDCAD-,H4  1.33243 1.33298 1.33067 1.33177</text>
<text x="8.6" y="598.9" class="ax" textLength="154.5" lengthAdjust="spacingAndGlyphs">MACD(12,26,9) -0.001472 -0.001730</text>
<text x="8.6" y="721.9" class="ax" textLength="68.2" lengthAdjust="spacingAndGlyphs">RSI(14) 48.4005</text>
<!-- red arrow annotation -->
<path d="M1244 561.5 L1326 499.5" stroke="#e2202a" stroke-width="2.8" fill="none"/>
<path d="M1338.4 490.2 L1319.5 492.9 L1329.6 507.3 Z" fill="#e2202a"/>
</svg>
</body></html>
